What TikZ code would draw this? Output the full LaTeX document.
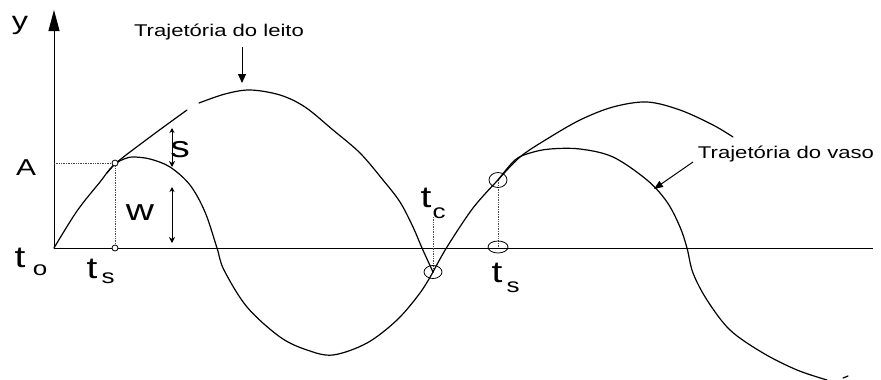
\documentclass[tikz,border=0pt]{standalone}
\usepackage{fontspec}
\setmainfont{Liberation Sans}
\usetikzlibrary{arrows.meta}
\newcommand{\stretchtxt}[1]{\scalebox{1.3}[1]{#1}}
\tikzset{
  curve/.style={line width=1.2pt, line join=round, line cap=round},
  guide/.style={line width=0.7pt, black!70, densely dotted},
  lab/.style={inner sep=0pt, anchor=base},
  bigfont/.style={font=\fontsize{30}{30}\selectfont},
  subfont/.style={font=\fontsize{20}{20}\selectfont},
  titlefont/.style={font=\fontsize{17}{17}\selectfont},
}
\begin{document}
\begin{tikzpicture}[x=1pt,y=-1pt]
\useasboundingbox (0,0) rectangle (881,380);
% key points
\coordinate (O) at (54,248);
\coordinate (Ytop) at (54,10);
\coordinate (Xend) at (873,248);
\coordinate (P) at (115,163);
\coordinate (Pa) at (54,163);
\coordinate (Pb) at (115,248);
\coordinate (V) at (433,272);
\coordinate (Vt) at (433,217);
\coordinate (T) at (498,180);
\coordinate (Tb) at (498,247);
% axes
\draw[line width=1pt] (O) -- (Xend);
\draw[line width=1pt, -{Triangle[length=21pt,width=11pt]}] (O) -- (Ytop);
% guides
\draw[guide] (Pa) -- (P);
\draw[guide] (P) -- (Pb);
\draw[guide] (T) -- (Tb);
\draw[guide] (Vt) -- (V);
% bed trajectory (leito)
\draw[curve] plot[smooth, tension=0.55] coordinates {(54,248) (77,211) (100,182) (115,164) (150,137) (187,110)};
\draw[curve] plot[smooth, tension=0.55] coordinates {(199,103) (225,94) (250,90) (280,95) (305,107) (333,130) (360,153) (383,180) (400,202) (413,227) (422,248) (433,272)};
% common rising part
\draw[curve] plot[smooth, tension=0.55] coordinates {(433,272) (447,247) (473,208) (498,180)};
% bed right part
\draw[curve] plot[smooth, tension=0.55] coordinates {(498,180) (520,157) (547,139) (580,120) (613,107) (647,102) (680,110) (713,125) (733,137)};
% vessel trajectory (vaso)
\draw[curve] plot[smooth, tension=0.55] coordinates {(107,173) (115,164) (124,159) (133,157) (150,159) (170,167) (190,185) (205,212) (217,248) (224,270) (247,307) (280,337) (307,350) (333,355) (367,343) (397,320) (420,293) (433,272)};
\draw[curve] plot[smooth, tension=0.55] coordinates {(498,180) (515,160) (530,153) (550,149) (580,149) (613,157) (647,180) (667,202) (680,227) (687,248) (693,273) (707,300) (730,330) (763,353) (797,370) (827,380)};
\draw[curve] (843,378) -- (848,376);
% markers
\draw[line width=0.8pt, fill=white] (P) circle[radius=3];
\draw[line width=0.8pt, fill=white] (Pb) circle[radius=3];
\draw[line width=0.8pt] (V) ellipse[x radius=9, y radius=6.5];
\draw[line width=0.8pt] (T) ellipse[x radius=9, y radius=7.5];
\draw[line width=0.8pt] (Tb) ellipse[x radius=10, y radius=6];
% s and w arrows
\coordinate (s1) at (172,128);
\coordinate (s2) at (172,167);
\coordinate (w1) at (172,187);
\coordinate (w2) at (172,243);
\draw[line width=0.9pt, {Stealth[length=5pt,width=5pt]}-{Stealth[length=6pt,width=6pt]}] (s1) -- (s2);
\draw[line width=0.9pt, {Stealth[length=5pt,width=5pt]}-{Stealth[length=6pt,width=6pt]}] (w1) -- (w2);
% labels
\node[lab, font=\fontsize{25}{25}\selectfont] (ylab) at (20,29) {\stretchtxt{y}};
\node[lab, font=\fontsize{23}{23}\selectfont] (Alab) at (26,175) {\stretchtxt{A}};
\node[lab, bigfont] (to) at (20,267) {\stretchtxt{t}};
\node[lab, subfont] (tosub) at (40,275) {\stretchtxt{o}};
\node[lab, bigfont] (ts1) at (92,278) {\stretchtxt{t}};
\node[lab, subfont] (ts1sub) at (108,283) {\stretchtxt{s}};
\node[lab, bigfont] (tc) at (426,207) {\stretchtxt{t}};
\node[lab, subfont] (tcsub) at (439,218) {\stretchtxt{c}};
\node[lab, bigfont] (ts2) at (497,282) {\stretchtxt{t}};
\node[lab, subfont] (ts2sub) at (513,292) {\stretchtxt{s}};
\node[lab, bigfont] (slab) at (180,157) {\stretchtxt{s}};
\node[lab, bigfont] (wlab) at (140,220) {\stretchtxt{w}};
\node[lab, titlefont] (leito) at (219,36.7) {\stretchtxt{Trajetória do leito}};
\node[lab, titlefont] (vaso) at (786,158) {\stretchtxt{Trajetória do vaso}};
% pointer arrows
\coordinate (la1) at (242,47);
\coordinate (la2) at (242,83);
\draw[line width=1pt, -{Triangle[length=9pt,width=8pt]}] (la1) -- (la2);
\coordinate (va1) at (693,162);
\coordinate (va2) at (654,189);
\draw[line width=1pt, -{Triangle[length=9pt,width=7pt]}] (va1) -- (va2);
\end{tikzpicture}
\end{document}
